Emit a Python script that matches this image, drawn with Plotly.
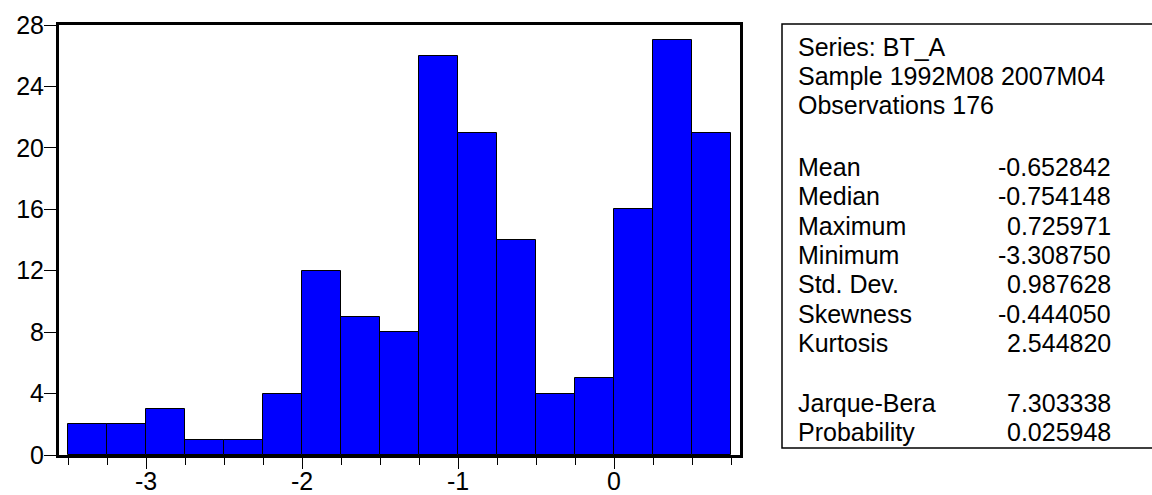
import plotly.graph_objects as go

# ---- data ----
bin_left = [-3.5, -3.25, -3.0, -2.75, -2.5, -2.25, -2.0, -1.75, -1.5,
            -1.25, -1.0, -0.75, -0.5, -0.25, 0.0, 0.25, 0.5]
counts = [2, 2, 3, 1, 1, 4, 12, 9, 8, 26, 21, 14, 4, 5, 16, 27, 21]
bin_width = 0.25

header_lines = ["Series: BT_A", "Sample 1992M08 2007M04", "Observations 176"]
stat_names = ["Mean", "Median", "Maximum", "Minimum", "Std. Dev.",
              "Skewness", "Kurtosis"]
stat_values = ["-0.652842", "-0.754148", "0.725971", "-3.308750",
               "0.987628", "-0.444050", "2.544820"]
test_names = ["Jarque-Bera", "Probability"]
test_values = ["7.303338", "0.025948"]

y_ticks = [0, 4, 8, 12, 16, 20, 24, 28]
x_ticks = [-3, -2, -1, 0]

# ---- layout geometry (pixels) ----
W, H = 1152, 495
L, R, T, B = 59, 740, 25, 455
FONT = "Arial, Liberation Sans, sans-serif"
FS = 25


def px(x):
    return (x - L) / (R - L)


def py(y):
    return (B - y) / (B - T)


centers = [b + bin_width / 2 for b in bin_left]

fig = go.Figure()
fig.add_trace(go.Bar(
    x=centers, y=counts, width=bin_width,
    marker=dict(color="#0000FF", line=dict(color="black", width=1)),
    hoverinfo="x+y", showlegend=False,
))

x_lo = -3.5 - (68 - L) / 156
x_hi = 0.75 + (R - 731) / 156

fig.update_layout(
    width=W, height=H,
    margin=dict(l=L, r=W - R, t=T, b=H - B, autoexpand=False),
    paper_bgcolor="white", plot_bgcolor="white",
    bargap=0,
    font=dict(family=FONT, size=FS, color="black"),
    xaxis=dict(
        range=[x_lo, x_hi], tickvals=x_ticks,
        ticktext=[str(v) for v in x_ticks],
        ticks="outside", ticklen=11, tickwidth=1, tickcolor="black",
        ticklabelstandoff=-9,
        minor=dict(dtick=0.25, tick0=0, ticks="outside", ticklen=7,
                   tickwidth=1, tickcolor="black", showgrid=False),
        showline=True, linecolor="black", linewidth=3, mirror=True,
        showgrid=False, zeroline=False, automargin=False,
        tickfont=dict(family=FONT, size=FS, color="black"),
    ),
    yaxis=dict(
        range=[0, 28], tickvals=y_ticks,
        ticktext=[str(v) for v in y_ticks],
        ticks="outside", ticklen=12, tickwidth=1, tickcolor="black",
        ticklabelstandoff=-5,
        showline=True, linecolor="black", linewidth=3, mirror=True,
        showgrid=False, zeroline=False, automargin=False,
        tickfont=dict(family=FONT, size=FS, color="black"),
    ),
)

# statistics box
fig.add_shape(type="rect", xref="paper", yref="paper",
              x0=px(782), x1=px(1160), y0=py(448), y1=py(24),
              line=dict(color="black", width=1.5), fillcolor="rgba(0,0,0,0)")

LBL_X = 797
VAL_X = 1112
header_y = [46, 75, 104]
stat_y = [166, 195, 225, 254, 283, 313, 342]
test_y = [402, 431]


def add_text(text, x, y, anchor):
    fig.add_annotation(
        text=text, xref="paper", yref="paper",
        x=px(x), y=py(y + 1), xanchor=anchor, yanchor="middle",
        showarrow=False, font=dict(family=FONT, size=FS, color="black"),
        borderpad=0,
    )


for t, y in zip(header_lines, header_y):
    add_text(t, LBL_X, y, "left")
for n, v, y in zip(stat_names, stat_values, stat_y):
    add_text(n, LBL_X, y, "left")
    add_text(v, VAL_X, y, "right")
for n, v, y in zip(test_names, test_values, test_y):
    add_text(n, LBL_X, y, "left")
    add_text(v, VAL_X, y, "right")

fig.write_html("out.html")
